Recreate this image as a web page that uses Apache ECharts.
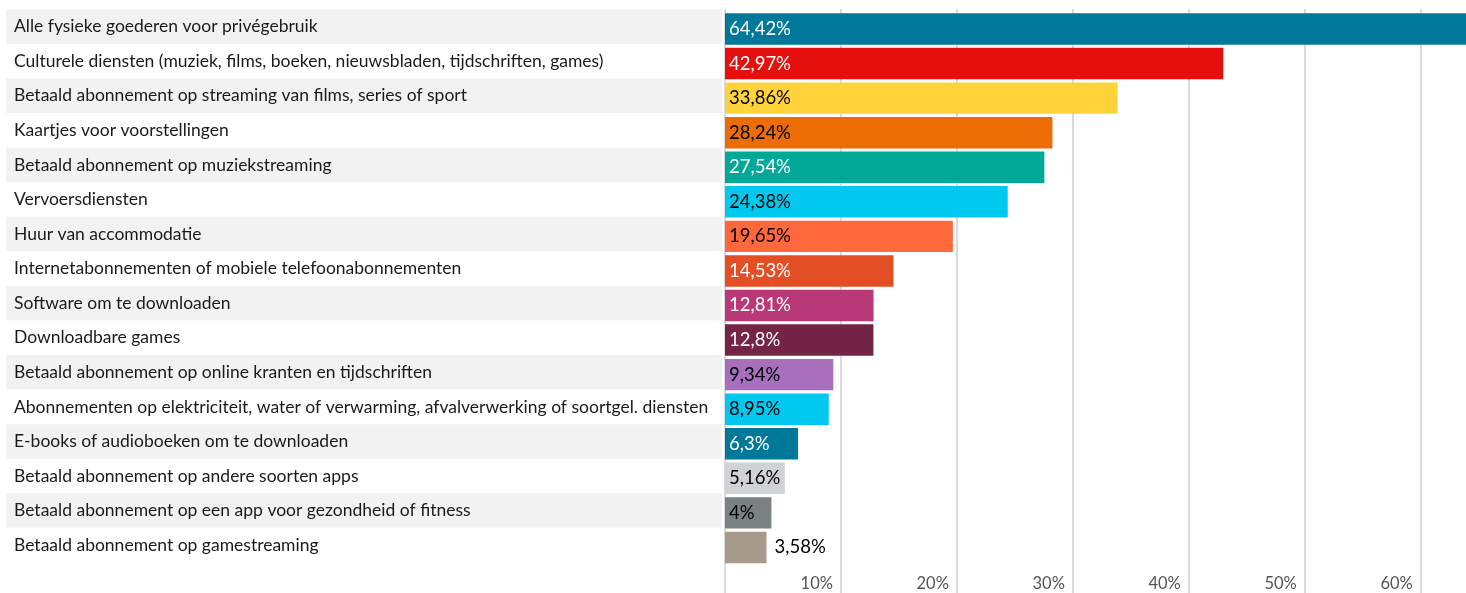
<!DOCTYPE html>
<html>
<head>
<meta charset="utf-8">
<script src="https://cdn.jsdelivr.net/npm/echarts@6/dist/echarts.min.js"></script>
<style>
html,body{margin:0;padding:0;background:#fff;}
#chart{width:1466px;height:593px;}
</style>
</head>
<body>
<div id="chart"></div>
<script>
// ---- data ----
const categories = [
  'Alle fysieke goederen voor privégebruik',
  'Culturele diensten (muziek, films, boeken, nieuwsbladen, tijdschriften, games)',
  'Betaald abonnement op streaming van films, series of sport',
  'Kaartjes voor voorstellingen',
  'Betaald abonnement op muziekstreaming',
  'Vervoersdiensten',
  'Huur van accommodatie',
  'Internetabonnementen of mobiele telefoonabonnementen',
  'Software om te downloaden',
  'Downloadbare games',
  'Betaald abonnement op online kranten en tijdschriften',
  'Abonnementen op elektriciteit, water of verwarming, afvalverwerking of soortgel. diensten',
  'E-books of audioboeken om te downloaden',
  'Betaald abonnement op andere soorten apps',
  'Betaald abonnement op een app voor gezondheid of fitness',
  'Betaald abonnement op gamestreaming'
];
const values = [64.42, 42.97, 33.86, 28.24, 27.54, 24.38, 19.65, 14.53, 12.81, 12.8, 9.34, 8.95, 6.3, 5.16, 4, 3.58];
const tickValues = [10, 20, 30, 40, 50, 60];

// ---- styles ----
const barColors = ['#00789a','#e5100d','#ffd43b','#ec6c05','#00a898','#00c8ee','#ff683b','#e34e25','#b93877','#742444','#a86fbe','#00c8ee','#00789a','#d0d2d5','#7c8184','#a89a8a'];
const labelColors = ['#fff','#fff','#000','#000','#fff','#000','#000','#fff','#fff','#fff','#000','#000','#fff','#000','#000','#000'];
const FONT = 'Lato, "Noto Sans", sans-serif';
const AXIS_MAX = Math.max.apply(null, values);

const chart = echarts.init(document.getElementById('chart'), null, {renderer: 'canvas'});

function fmt(v){ return String(v).replace('.', ',') + '%'; }

function buildData(insideFlags){
  return values.map((v, i) => ({
    value: v,
    itemStyle: {color: barColors[i]},
    label: insideFlags[i]
      ? {position: 'insideLeft', distance: 4, color: labelColors[i]}
      : {position: 'right', distance: 8, color: '#000'}
  }));
}

const option = {
  animation: false,
  grid: [
    {left: 725, width: 747, top: 11.7, height: 553, containLabel: false, outerBoundsMode: 'none'},   // bars
    {left: 725, width: 747, top: 9, bottom: 0, containLabel: false, outerBoundsMode: 'none'},        // gridlines + ticks
    {left: 6, width: 716, top: 9.4, height: 553, containLabel: false, outerBoundsMode: 'none'}       // stripes + categories
  ],
  xAxis: [
    {gridIndex: 0, type: 'value', min: 0, max: AXIS_MAX, show: false},
    {gridIndex: 1, type: 'value', min: 0, max: AXIS_MAX, interval: 10,
      axisLine: {show: false}, axisTick: {show: false},
      splitLine: {show: true, lineStyle: {color: '#dadada', width: 2}},
      axisLabel: {
        inside: true, margin: 1, align: 'right', verticalAlign: 'bottom',
        padding: [0, 8, 0, 0], color: '#555', fontSize: 16.5, fontFamily: FONT,
        showMinLabel: false, showMaxLabel: false,
        formatter: v => (tickValues.indexOf(v) >= 0 ? v + '%' : '')
      }
    },
    {gridIndex: 2, type: 'value', min: 0, max: 1, show: false}
  ],
  yAxis: [
    {gridIndex: 0, type: 'category', data: categories, inverse: true, show: false},
    {gridIndex: 1, type: 'value', min: 0, max: 1, show: false},
    {gridIndex: 2, type: 'category', data: categories, inverse: true,
      axisLine: {show: false}, axisTick: {show: false}, splitLine: {show: false},
      splitArea: {show: true, areaStyle: {color: ['#f2f2f2', '#ffffff']}},
      axisLabel: {inside: true, margin: 8, align: 'left', color: '#1a1a1a', fontSize: 17.5, fontFamily: FONT}
    }
  ],
  series: [
    {
      type: 'bar', xAxisIndex: 0, yAxisIndex: 0, barCategoryGap: '9%',
      data: buildData(values.map(() => true)),
      label: {show: true, fontSize: 18.5, fontFamily: FONT, formatter: p => fmt(p.value)},
      z: 5
    }
  ]
};
chart.setOption(option);

// Decide which labels fit inside their bar
const ctx = document.createElement('canvas').getContext('2d');
ctx.font = '18.5px ' + FONT;
const x0 = chart.convertToPixel({xAxisIndex: 0}, 0);
const inside = values.map(v => {
  const w = chart.convertToPixel({xAxisIndex: 0}, v) - x0;
  return ctx.measureText(fmt(v)).width + 6 <= w;
});
chart.setOption({series: [{data: buildData(inside)}]});
</script>
</body>
</html>
